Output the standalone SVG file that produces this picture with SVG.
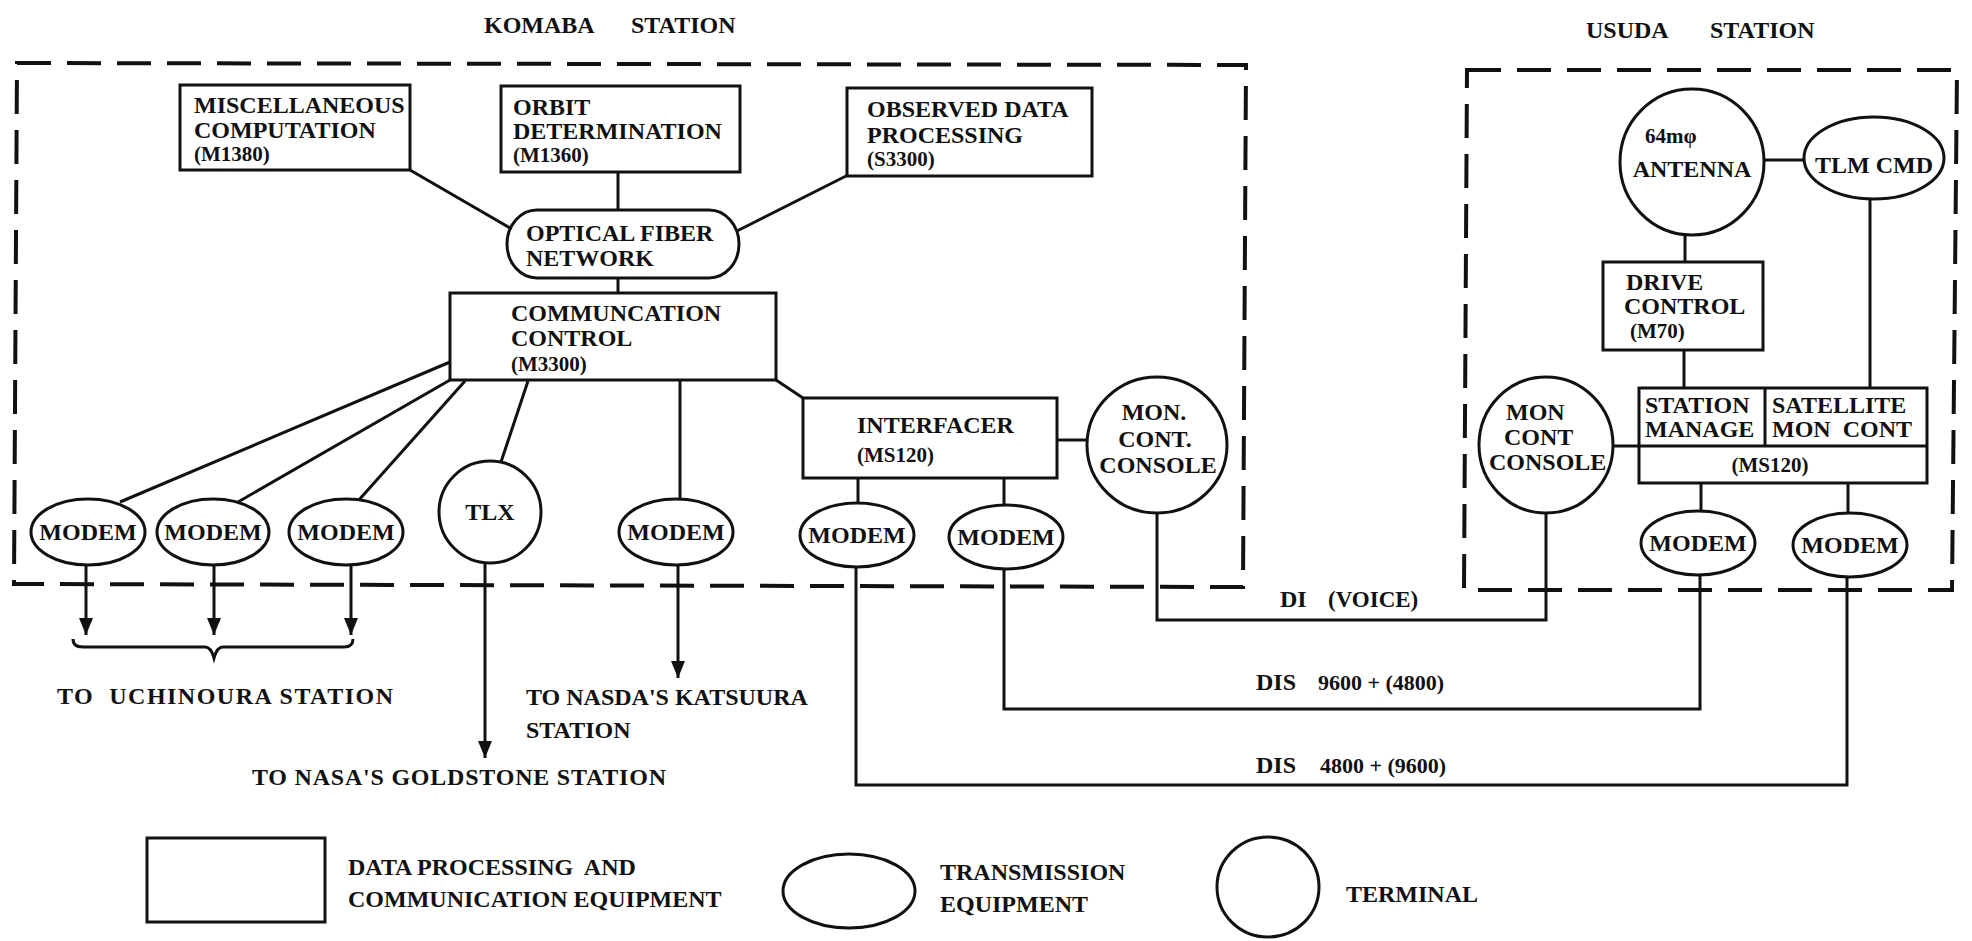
<svg xmlns="http://www.w3.org/2000/svg" width="1972" height="941" viewBox="0 0 1972 941">
<style>
text{font-family:"Liberation Serif","Times New Roman",serif;font-weight:bold;font-size:24px;fill:#111}
.sm{font-size:21px}
.num{font-size:22px}
.mid{text-anchor:middle}
.box{fill:#fff;stroke:#111;stroke-width:3}
.ln{fill:none;stroke:#111;stroke-width:3}
.dash{fill:none;stroke:#111;stroke-width:4;stroke-dasharray:34 16}
</style>
<defs>
<marker id="arr" viewBox="0 0 17 14" refX="17" refY="7" markerWidth="17" markerHeight="14" markerUnits="userSpaceOnUse" orient="auto">
<path d="M0,0 L17,7 L0,14 Z" fill="#111"/>
</marker>
</defs>
<rect width="1972" height="941" fill="#fff"/>

<g id="titles">
<text x="484" y="33">KOMABA</text>
<text x="631" y="33">STATION</text>
<text x="1586" y="38">USUDA</text>
<text x="1710" y="38">STATION</text>
</g>

<g id="station-boundaries">
<path class="dash" d="M17,63 L1246,65 L1243,587 L14,584 Z"/>
<path class="dash" d="M1467,70 L1957,70 L1952,590 L1464,590 Z"/>
</g>

<g id="connectors">
<line class="ln" x1="410" y1="170" x2="510" y2="228"/>
<line class="ln" x1="618" y1="172" x2="618" y2="210"/>
<line class="ln" x1="848" y1="175" x2="737" y2="231"/>
<line class="ln" x1="618" y1="278" x2="618" y2="293"/>
<line class="ln" x1="450" y1="362" x2="120" y2="502"/>
<line class="ln" x1="450" y1="380" x2="238" y2="502"/>
<line class="ln" x1="465" y1="381" x2="358" y2="501"/>
<line class="ln" x1="528" y1="381" x2="501" y2="462"/>
<line class="ln" x1="680" y1="380" x2="680" y2="500"/>
<line class="ln" x1="776" y1="380" x2="803" y2="398"/>
<line class="ln" x1="858" y1="478" x2="858" y2="503"/>
<line class="ln" x1="1004" y1="478" x2="1004" y2="505"/>
<line class="ln" x1="1057" y1="440" x2="1088" y2="440"/>
<line class="ln" x1="86" y1="565" x2="86" y2="635" marker-end="url(#arr)"/>
<line class="ln" x1="214" y1="565" x2="214" y2="635" marker-end="url(#arr)"/>
<line class="ln" x1="351" y1="565" x2="351" y2="635" marker-end="url(#arr)"/>
<line class="ln" x1="485" y1="563" x2="485" y2="758" marker-end="url(#arr)"/>
<line class="ln" x1="678" y1="565" x2="678" y2="678" marker-end="url(#arr)"/>
<path class="ln" d="M73,639 Q73,647 83,647 L205,647 Q211,647 214,658 Q217,647 223,647 L344,647 Q353,647 353,639"/>
<path class="ln" d="M1157,513 L1157,620 L1546,620 L1546,513"/>
<path class="ln" d="M1004,570 L1004,709 L1700,709 L1700,575"/>
<path class="ln" d="M856,567 L856,785 L1847,785 L1847,577"/>
<line class="ln" x1="1765" y1="160" x2="1805" y2="160"/>
<line class="ln" x1="1685" y1="235" x2="1685" y2="262"/>
<line class="ln" x1="1684" y1="350" x2="1684" y2="388"/>
<line class="ln" x1="1870" y1="199" x2="1870" y2="388"/>
<line class="ln" x1="1613" y1="446" x2="1639" y2="446"/>
<line class="ln" x1="1701" y1="483" x2="1701" y2="512"/>
<line class="ln" x1="1848" y1="483" x2="1848" y2="512"/>
</g>

<g id="misc-computation">
<rect class="box" x="180" y="85" width="230" height="85"/>
<text x="194" y="113">MISCELLANEOUS</text>
<text x="194" y="138">COMPUTATION</text>
<text class="sm" x="194" y="161">(M1380)</text>
</g>
<g id="orbit-determination">
<rect class="box" x="501" y="86" width="239" height="86"/>
<text x="513" y="115">ORBIT</text>
<text x="513" y="139">DETERMINATION</text>
<text class="sm" x="513" y="162">(M1360)</text>
</g>
<g id="observed-data">
<rect class="box" x="847" y="88" width="245" height="88"/>
<text x="867" y="117">OBSERVED DATA</text>
<text x="867" y="143">PROCESSING</text>
<text class="sm" x="867" y="166">(S3300)</text>
</g>
<g id="optical-fiber">
<rect class="box" x="507" y="210" width="232" height="68" rx="30" ry="34"/>
<text x="526" y="241">OPTICAL FIBER</text>
<text x="526" y="266">NETWORK</text>
</g>
<g id="comm-control">
<rect class="box" x="450" y="293" width="326" height="87"/>
<text x="511" y="321">COMMUNCATION</text>
<text x="511" y="346">CONTROL</text>
<text class="sm" x="511" y="371">(M3300)</text>
</g>
<g id="modem-k1">
<ellipse class="box" cx="88" cy="532" rx="57" ry="33"/>
<text class="mid" x="88" y="540">MODEM</text>
</g>
<g id="modem-k2">
<ellipse class="box" cx="213" cy="532" rx="56" ry="33"/>
<text class="mid" x="213" y="540">MODEM</text>
</g>
<g id="modem-k3">
<ellipse class="box" cx="346" cy="532" rx="57" ry="33"/>
<text class="mid" x="346" y="540">MODEM</text>
</g>
<g id="tlx">
<ellipse class="box" cx="490" cy="512" rx="51" ry="51"/>
<text class="mid" x="490" y="520">TLX</text>
</g>
<g id="modem-k4">
<ellipse class="box" cx="676" cy="532" rx="57" ry="33"/>
<text class="mid" x="676" y="540">MODEM</text>
</g>
<g id="interfacer">
<rect class="box" x="803" y="398" width="254" height="80"/>
<text x="857" y="433">INTERFACER</text>
<text class="sm" x="857" y="462">(MS120)</text>
</g>
<g id="modem-k5">
<ellipse class="box" cx="857" cy="535" rx="57" ry="32"/>
<text class="mid" x="857" y="543">MODEM</text>
</g>
<g id="modem-k6">
<ellipse class="box" cx="1006" cy="537" rx="57" ry="32"/>
<text class="mid" x="1006" y="545">MODEM</text>
</g>
<g id="console-komaba">
<ellipse class="box" cx="1157" cy="445" rx="70" ry="68"/>
<text class="mid" x="1154" y="420">MON.</text>
<text class="mid" x="1155" y="447">CONT.</text>
<text class="mid" x="1158" y="473">CONSOLE</text>
</g>

<g id="antenna">
<ellipse class="box" cx="1692" cy="162" rx="72" ry="73"/>
<text class="sm" x="1645" y="143">64mφ</text>
<text class="mid" x="1692" y="177">ANTENNA</text>
</g>
<g id="tlm-cmd">
<ellipse class="box" cx="1874" cy="158" rx="70" ry="41"/>
<text class="mid" x="1874" y="173">TLM CMD</text>
</g>
<g id="drive-control">
<rect class="box" x="1603" y="262" width="160" height="88"/>
<text x="1626" y="290">DRIVE</text>
<text x="1624" y="314">CONTROL</text>
<text class="sm" x="1630" y="338">(M70)</text>
</g>
<g id="station-manage">
<rect class="box" x="1639" y="388" width="288" height="95"/>
<line class="ln" x1="1639" y1="446" x2="1927" y2="446"/>
<line class="ln" x1="1765" y1="388" x2="1765" y2="446"/>
<text x="1645" y="413">STATION</text>
<text x="1645" y="437">MANAGE</text>
<text x="1772" y="413">SATELLITE</text>
<text x="1772" y="437" xml:space="preserve">MON  CONT</text>
<text class="sm mid" x="1770" y="472">(MS120)</text>
</g>
<g id="console-usuda">
<ellipse class="box" cx="1546" cy="445" rx="67" ry="68"/>
<text x="1506" y="420">MON</text>
<text x="1504" y="445">CONT</text>
<text x="1489" y="470">CONSOLE</text>
</g>
<g id="modem-u1">
<ellipse class="box" cx="1698" cy="543" rx="57" ry="32"/>
<text class="mid" x="1698" y="551">MODEM</text>
</g>
<g id="modem-u2">
<ellipse class="box" cx="1850" cy="545" rx="57" ry="32"/>
<text class="mid" x="1850" y="553">MODEM</text>
</g>

<g id="labels">
<text x="57" y="704" textLength="336" xml:space="preserve">TO  UCHINOURA STATION</text>
<text x="526" y="705">TO NASDA'S KATSUURA</text>
<text x="526" y="738">STATION</text>
<text x="252" y="785" textLength="414">TO NASA'S GOLDSTONE STATION</text>
<text x="1280" y="607">DI</text>
<text x="1328" y="607" style="font-size:23px">(VOICE)</text>
<text x="1256" y="690">DIS</text>
<text class="num" x="1318" y="690">9600 + (4800)</text>
<text x="1256" y="773">DIS</text>
<text class="num" x="1320" y="773">4800 + (9600)</text>
</g>

<g id="legend">
<rect class="box" x="147" y="838" width="178" height="84"/>
<text x="348" y="875" xml:space="preserve">DATA PROCESSING  AND</text>
<text x="348" y="907">COMMUNICATION EQUIPMENT</text>
<ellipse class="box" cx="849" cy="891" rx="66" ry="37"/>
<text x="940" y="880">TRANSMISSION</text>
<text x="940" y="912">EQUIPMENT</text>
<ellipse class="box" cx="1268" cy="887" rx="51" ry="50"/>
<text x="1346" y="902">TERMINAL</text>
</g>
</svg>
